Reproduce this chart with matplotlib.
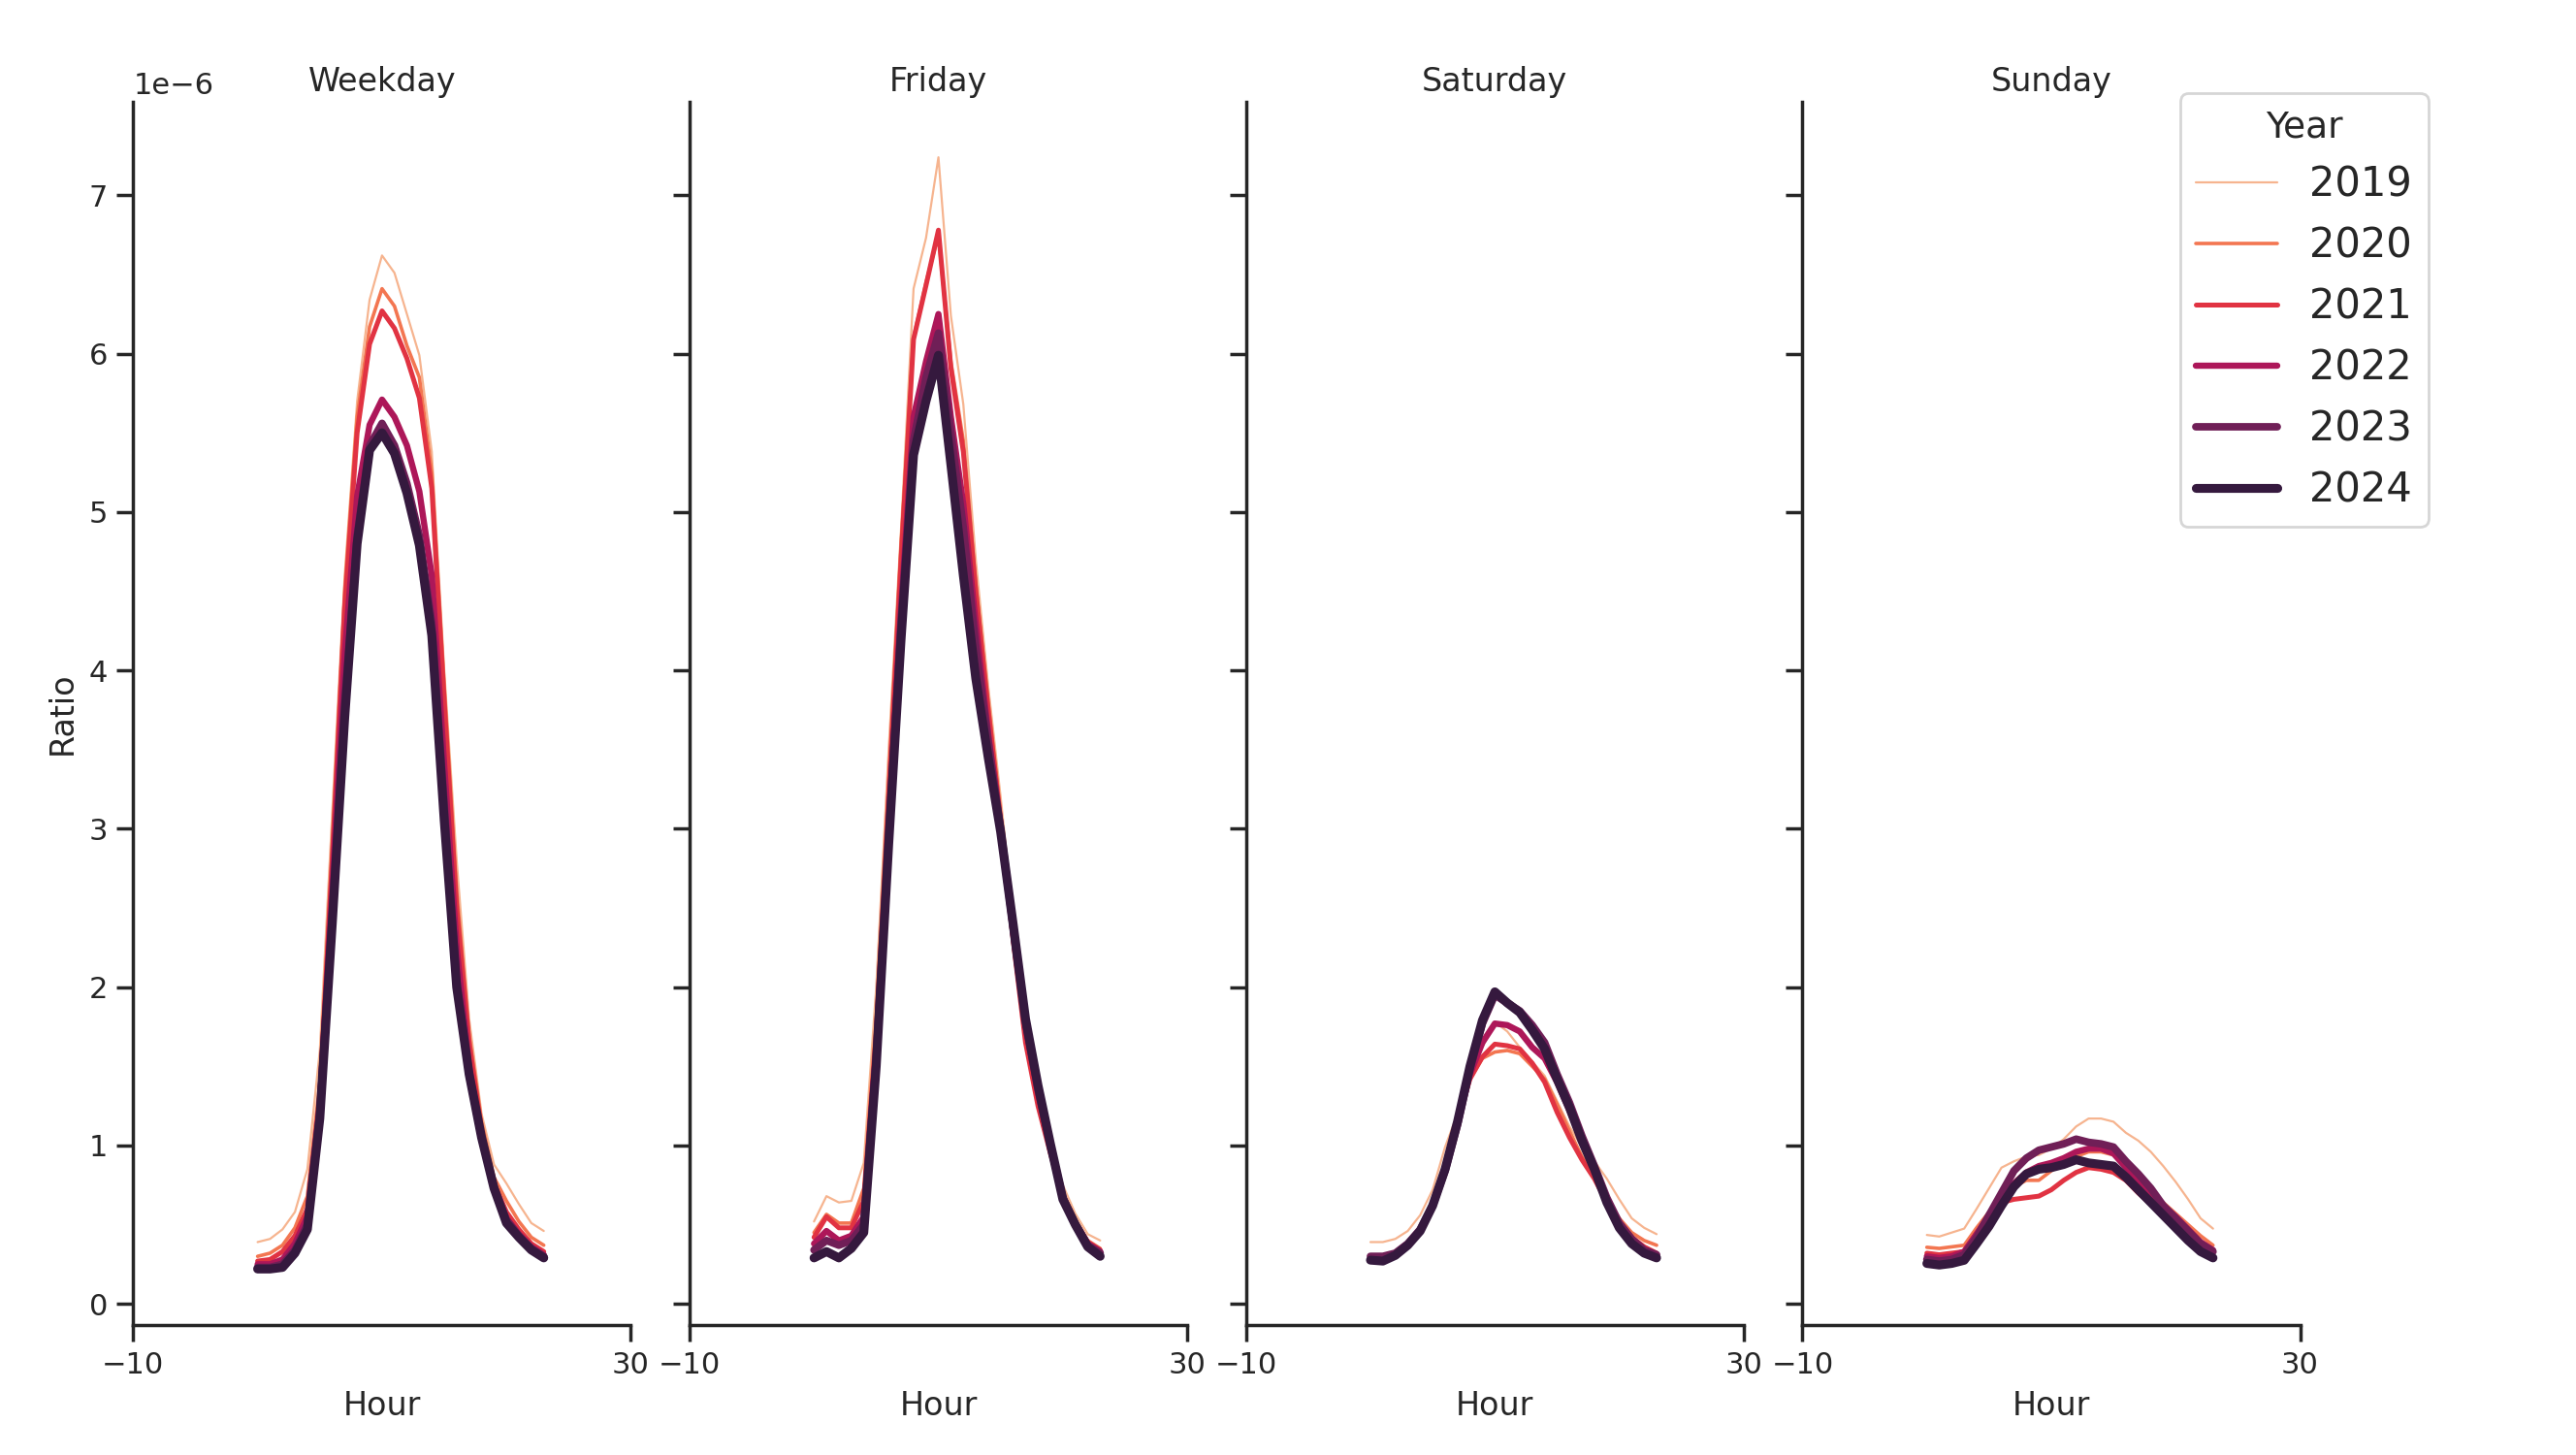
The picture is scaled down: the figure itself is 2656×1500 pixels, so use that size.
import matplotlib
matplotlib.use("Agg")
import matplotlib.pyplot as plt

# ---------------- data ----------------
hours = list(range(24))
years = [2019, 2020, 2021, 2022, 2023, 2024]
panels = ["Weekday", "Friday", "Saturday", "Sunday"]
x_ticks = [-10, 30]

weekday_2019 = [0.39, 0.41, 0.47, 0.58, 0.85, 1.6, 3.1, 4.6, 5.7, 6.34, 6.62, 6.51, 6.25, 5.99, 5.38, 4.0, 2.8, 1.8, 1.2, 0.88, 0.76, 0.63, 0.51, 0.46]
weekday_2020 = [0.30, 0.32, 0.37, 0.48, 0.68, 1.4, 2.9, 4.5, 5.6, 6.17, 6.41, 6.30, 6.05, 5.85, 5.25, 3.9, 2.6, 1.7, 1.15, 0.8, 0.65, 0.52, 0.42, 0.37]
weekday_2021 = [0.27, 0.28, 0.33, 0.43, 0.6, 1.3, 2.8, 4.4, 5.5, 6.06, 6.27, 6.16, 5.97, 5.72, 5.15, 3.8, 2.5, 1.65, 1.1, 0.76, 0.58, 0.47, 0.38, 0.33]
weekday_2022 = [0.25, 0.25, 0.28, 0.38, 0.55, 1.25, 2.6, 4.1, 5.1, 5.55, 5.71, 5.6, 5.42, 5.13, 4.6, 3.4, 2.25, 1.5, 1.05, 0.74, 0.54, 0.44, 0.36, 0.31]
weekday_2023 = [0.23, 0.23, 0.25, 0.34, 0.5, 1.2, 2.45, 3.8, 4.85, 5.42, 5.56, 5.42, 5.18, 4.85, 4.3, 3.15, 2.05, 1.45, 1.05, 0.74, 0.53, 0.43, 0.35, 0.30]
weekday_2024 = [0.22, 0.22, 0.23, 0.32, 0.47, 1.17, 2.4, 3.7, 4.8, 5.39, 5.5, 5.37, 5.12, 4.79, 4.22, 3.05, 2.0, 1.45, 1.05, 0.73, 0.51, 0.42, 0.34, 0.29]

friday_2019 = [0.52, 0.68, 0.64, 0.65, 0.89, 2.0, 3.5, 4.9, 6.41, 6.73, 7.24, 6.24, 5.68, 4.7, 3.9, 3.2, 2.45, 1.8, 1.38, 1.02, 0.75, 0.57, 0.44, 0.40]
friday_2020 = [0.45, 0.565, 0.51, 0.51, 0.73, 1.8, 3.3, 4.8, 6.1, 6.45, 6.75, 5.95, 5.45, 4.55, 3.8, 3.1, 2.35, 1.72, 1.3, 0.97, 0.7, 0.53, 0.4, 0.35]
friday_2021 = [0.42, 0.55, 0.48, 0.48, 0.65, 1.7, 3.2, 4.7, 6.09, 6.43, 6.78, 5.91, 5.38, 4.5, 3.75, 3.05, 2.3, 1.65, 1.25, 0.95, 0.68, 0.52, 0.39, 0.34]
friday_2022 = [0.38, 0.46, 0.40, 0.43, 0.55, 1.6, 3.0, 4.4, 5.6, 5.95, 6.25, 5.6, 5.05, 4.3, 3.6, 3.0, 2.35, 1.75, 1.33, 0.98, 0.68, 0.51, 0.38, 0.33]
friday_2023 = [0.34, 0.40, 0.37, 0.40, 0.50, 1.55, 2.95, 4.3, 5.45, 5.85, 6.13, 5.5, 4.9, 4.15, 3.55, 3.0, 2.38, 1.78, 1.36, 1.0, 0.67, 0.5, 0.37, 0.32]
friday_2024 = [0.29, 0.33, 0.29, 0.35, 0.45, 1.5, 2.9, 4.2, 5.36, 5.7, 5.99, 5.3, 4.6, 3.95, 3.45, 2.98, 2.4, 1.8, 1.38, 1.01, 0.66, 0.5, 0.36, 0.30]

saturday_2019 = [0.39, 0.39, 0.41, 0.46, 0.56, 0.72, 0.99, 1.20, 1.42, 1.62, 1.78, 1.72, 1.62, 1.53, 1.44, 1.28, 1.12, 0.99, 0.9, 0.79, 0.66, 0.54, 0.48, 0.44]
saturday_2020 = [0.30, 0.30, 0.32, 0.38, 0.48, 0.64, 0.87, 1.16, 1.42, 1.55, 1.59, 1.60, 1.58, 1.50, 1.42, 1.26, 1.09, 0.93, 0.80, 0.66, 0.54, 0.45, 0.40, 0.37]
saturday_2021 = [0.28, 0.28, 0.30, 0.37, 0.47, 0.63, 0.86, 1.15, 1.42, 1.56, 1.64, 1.63, 1.61, 1.52, 1.40, 1.21, 1.05, 0.91, 0.79, 0.64, 0.51, 0.42, 0.36, 0.32]
saturday_2022 = [0.29, 0.29, 0.31, 0.37, 0.46, 0.62, 0.85, 1.15, 1.45, 1.65, 1.77, 1.76, 1.72, 1.62, 1.55, 1.40, 1.22, 1.02, 0.84, 0.65, 0.50, 0.40, 0.34, 0.31]
saturday_2023 = [0.30, 0.30, 0.32, 0.38, 0.47, 0.62, 0.84, 1.13, 1.48, 1.77, 1.95, 1.90, 1.85, 1.76, 1.65, 1.45, 1.27, 1.06, 0.87, 0.67, 0.51, 0.41, 0.34, 0.31]
saturday_2024 = [0.276, 0.27, 0.306, 0.37, 0.46, 0.62, 0.85, 1.15, 1.5, 1.79, 1.97, 1.90, 1.84, 1.73, 1.61, 1.42, 1.24, 1.03, 0.85, 0.64, 0.48, 0.38, 0.32, 0.29]

sunday_2019 = [0.435, 0.425, 0.45, 0.475, 0.60, 0.73, 0.86, 0.90, 0.93, 0.94, 0.98, 1.04, 1.12, 1.17, 1.17, 1.15, 1.08, 1.03, 0.96, 0.87, 0.77, 0.66, 0.54, 0.475]
sunday_2020 = [0.357, 0.35, 0.36, 0.37, 0.48, 0.58, 0.68, 0.74, 0.78, 0.78, 0.84, 0.89, 0.93, 0.96, 0.96, 0.94, 0.86, 0.80, 0.72, 0.64, 0.57, 0.50, 0.43, 0.37]
sunday_2021 = [0.32, 0.31, 0.32, 0.33, 0.45, 0.54, 0.64, 0.66, 0.67, 0.68, 0.72, 0.78, 0.83, 0.86, 0.85, 0.83, 0.78, 0.70, 0.63, 0.56, 0.49, 0.42, 0.36, 0.31]
sunday_2022 = [0.30, 0.29, 0.30, 0.33, 0.44, 0.56, 0.68, 0.76, 0.83, 0.87, 0.89, 0.92, 0.96, 0.98, 0.98, 0.95, 0.86, 0.78, 0.70, 0.62, 0.55, 0.47, 0.39, 0.34]
sunday_2023 = [0.28, 0.27, 0.28, 0.31, 0.42, 0.56, 0.70, 0.84, 0.92, 0.97, 0.99, 1.01, 1.04, 1.02, 1.01, 0.99, 0.90, 0.82, 0.73, 0.62, 0.54, 0.46, 0.38, 0.33]
sunday_2024 = [0.255, 0.245, 0.255, 0.275, 0.38, 0.49, 0.62, 0.74, 0.82, 0.85, 0.86, 0.88, 0.91, 0.89, 0.88, 0.87, 0.80, 0.72, 0.64, 0.56, 0.48, 0.40, 0.33, 0.29]

series = {
    "Weekday": [weekday_2019, weekday_2020, weekday_2021, weekday_2022, weekday_2023, weekday_2024],
    "Friday": [friday_2019, friday_2020, friday_2021, friday_2022, friday_2023, friday_2024],
    "Saturday": [saturday_2019, saturday_2020, saturday_2021, saturday_2022, saturday_2023, saturday_2024],
    "Sunday": [sunday_2019, sunday_2020, sunday_2021, sunday_2022, sunday_2023, sunday_2024],
}
scale = 1e-6

# ---------------- style ----------------
colors = ["#f6b48f", "#f37651", "#e13342", "#ad1759", "#701f57", "#35193e"]
widths = [0.8, 1.3, 1.8, 2.3, 2.8, 3.3]

plt.rcParams.update({
    "font.family": ["DejaVu Sans"],
    "text.color": "0.15",
    "axes.labelcolor": "0.15",
    "axes.edgecolor": "0.15",
    "xtick.color": "0.15",
    "ytick.color": "0.15",
    "axes.linewidth": 1.25,
    "xtick.major.width": 1.25,
    "ytick.major.width": 1.25,
    "xtick.major.size": 6.0,
    "ytick.major.size": 6.0,
    "xtick.labelsize": 11,
    "ytick.labelsize": 11,
    "axes.labelsize": 12,
    "axes.titlesize": 12,
})

fig, axes = plt.subplots(1, 4, figsize=(13.28, 7.5), dpi=200, sharey=True)
fig.subplots_adjust(left=0.0517, right=0.8929, bottom=0.0892, top=0.93, wspace=0.118)

handles = []
for ax, panel in zip(axes, panels):
    for yr, vals, c, lw in zip(years, series[panel], colors, widths):
        ln, = ax.plot(hours, [v * scale for v in vals], color=c, lw=lw,
                      solid_capstyle="round", solid_joinstyle="round", label=str(yr))
        if panel == "Weekday":
            handles.append(ln)
    ax.set_title(panel, pad=4)
    ax.set_xlim(-10, 30)
    ax.set_xticks(x_ticks)
    ax.set_xlabel("Hour")
    ax.spines["top"].set_visible(False)
    ax.spines["right"].set_visible(False)

axes[0].set_ylabel("Ratio")
axes[0].set_ylim(-0.135e-6, 7.59e-6)
axes[0].set_yticks([i * 1e-6 for i in range(8)])

leg = fig.legend(handles=handles, labels=[str(y) for y in years], title="Year",
                 loc="upper left", bbox_to_anchor=(0.8463, 0.9357), borderaxespad=0,
                 fontsize=15, title_fontsize=13.5, frameon=True)
leg.get_frame().set_edgecolor("0.8")

fig.savefig("out.png", dpi=200)
